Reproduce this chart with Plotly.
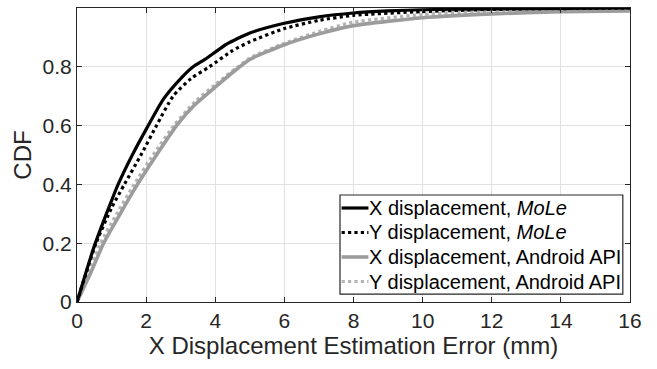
import plotly.graph_objects as go

# Empirical CDF curves of displacement estimation error (mm)
x_mole_x = [0, 0.5, 1.0, 1.19, 1.6, 2.06, 2.5, 3.0, 3.36, 3.7, 4.0, 4.3, 5.0, 6.0, 7.0, 8.0, 9.0, 10, 12, 14, 16]
cdf_mole_x = [0, 0.19, 0.345, 0.4, 0.5, 0.6, 0.69, 0.76, 0.8, 0.825, 0.85, 0.875, 0.915, 0.948, 0.97, 0.983, 0.99, 0.994, 0.997, 0.999, 1.0]

x_mole_y = [0, 0.55, 1.0, 1.37, 1.85, 2.3, 2.78, 3.3, 3.83, 4.5, 5, 6, 7, 8, 10, 12, 14, 16]
cdf_mole_y = [0, 0.2, 0.32, 0.4, 0.5, 0.6, 0.7, 0.76, 0.8, 0.855, 0.885, 0.93, 0.958, 0.975, 0.988, 0.995, 0.998, 1.0]

x_api_x = [0, 0.4, 0.77, 1.25, 1.75, 2.3, 2.88, 3.4, 4.04, 4.6, 5, 6, 7, 8, 10, 12, 14, 16]
cdf_api_x = [0, 0.1, 0.2, 0.3, 0.4, 0.5, 0.6, 0.67, 0.735, 0.79, 0.825, 0.875, 0.912, 0.94, 0.967, 0.98, 0.987, 0.99]

x_api_y = [0, 0.35, 0.68, 1.15, 1.65, 2.2, 2.8, 3.4, 4.0, 4.6, 5, 6, 7, 8, 10, 12, 14, 16]
cdf_api_y = [0, 0.1, 0.2, 0.3, 0.4, 0.5, 0.6, 0.68, 0.74, 0.795, 0.83, 0.88, 0.92, 0.952, 0.978, 0.99, 0.995, 0.998]

series_names = [
    "X displacement, <i>MoLe</i>",
    "Y displacement, <i>MoLe</i>",
    "X displacement, Android API",
    "Y displacement, Android API",
]

x_ticks = [0, 2, 4, 6, 8, 10, 12, 14, 16]
y_ticks = [0, 0.2, 0.4, 0.6, 0.8, 1]
y_tick_labels = ["0", "0.2", "0.4", "0.6", "0.8", "1"]

FONT = "Liberation Sans, Arial, sans-serif"
TXT = "#262626"

styles = [
    dict(color="#000000", width=3.2, dash="solid"),
    dict(color="#000000", width=3.2, dash="dot"),
    dict(color="#9c9c9c", width=3.6, dash="solid"),
    dict(color="#b4b4b4", width=3.2, dash="dot"),
]
data = [(x_mole_x, cdf_mole_x), (x_mole_y, cdf_mole_y), (x_api_x, cdf_api_x), (x_api_y, cdf_api_y)]

fig = go.Figure()
# Draw API curves first so MoLe curves sit on top
for idx in [3, 2, 1, 0]:
    xs, ys = data[idx]
    fig.add_trace(go.Scatter(x=xs, y=ys, mode="lines", name=series_names[idx],
                             line=dict(**styles[idx], shape="spline", smoothing=0.6)))

# Boxed legend in the lower-right corner of the axes (paper coordinates)
box = dict(x0=0.4756, x1=0.987, y0=0.027, y1=0.364)
row_y = [0.3197, 0.2364, 0.1531, 0.0697]
fig.add_shape(type="rect", xref="paper", yref="paper", **box,
              fillcolor="white", line=dict(color=TXT, width=1.2), layer="above")
for name, st, yy in zip(series_names, styles, row_y):
    fig.add_shape(type="line", xref="paper", yref="paper",
                  x0=0.4785, x1=0.527, y0=yy, y1=yy,
                  line=dict(color=st["color"], width=st["width"], dash=st["dash"]), layer="above")
    fig.add_annotation(xref="paper", yref="paper", x=0.525, y=yy, text=name,
                       showarrow=False, xanchor="left", yanchor="middle",
                       font=dict(family=FONT, size=20, color="#000000"))

axis_common = dict(
    showline=True, linecolor=TXT, linewidth=1.2, mirror="ticks",
    ticks="inside", ticklen=5, tickwidth=1.2, tickcolor=TXT,
    showgrid=True, gridcolor="#e1e1e1", gridwidth=1.2,
    zeroline=False, tickfont=dict(family=FONT, size=21, color=TXT),
)

fig.update_layout(
    width=657, height=369,
    margin=dict(l=77, r=27, t=8, b=67),
    paper_bgcolor="white", plot_bgcolor="white",
    font=dict(family=FONT, color=TXT),
    showlegend=False,
    xaxis=dict(range=[0, 16], tickvals=x_ticks,
               title=dict(text="X Displacement Estimation Error (mm)",
                          font=dict(family=FONT, size=24, color=TXT), standoff=5),
               **axis_common),
    yaxis=dict(range=[0, 1], tickvals=y_ticks, ticktext=y_tick_labels,
               title=dict(text="CDF", font=dict(family=FONT, size=24, color=TXT), standoff=4),
               **axis_common),
)

fig.write_html("out.html")
